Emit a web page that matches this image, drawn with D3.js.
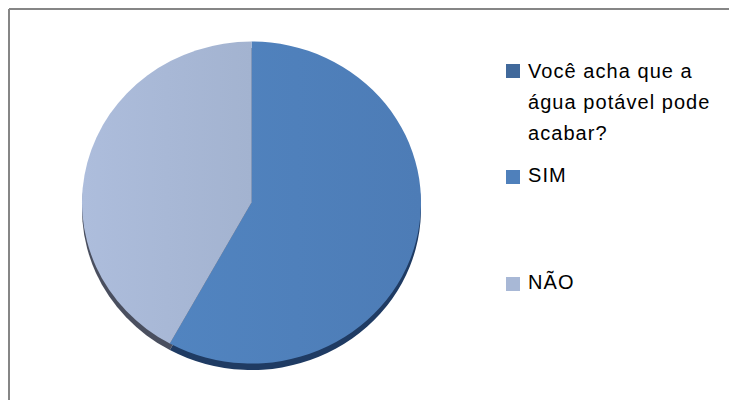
<!DOCTYPE html>
<html>
<head>
<meta charset="utf-8">
<script src="https://cdn.jsdelivr.net/npm/d3@7"></script>
<style>
  html, body { margin: 0; padding: 0; background: #fff; }
  svg { display: block; }
</style>
</head>
<body>
<svg id="chart" width="729" height="400"></svg>
<script>
// Survey answers (percent of respondents)
const categories = ["SIM", "NÃO"];
const values = [58, 42];
const legendTitle = ["Você acha que a", "água potável pode", "acabar?"];

const sliceColors = ["#4f80bb", "#a8b8d6"];
const shadeColors = ["#1f3b63", "#4a4f5f"];
const titleSwatch = "#41699b";

const svg = d3.select("#chart");
const W = 729, H = 400;

// Frame: top and left grey edges
svg.append("line").attr("x1", 9).attr("y1", 9).attr("x2", W).attr("y2", 9)
  .attr("stroke", "#868686").attr("stroke-width", 2);
svg.append("line").attr("x1", 9).attr("y1", 9).attr("x2", 9).attr("y2", H)
  .attr("stroke", "#868686").attr("stroke-width", 2);

// Soft horizontal shading across each slice
const defs = svg.append("defs");
sliceColors.forEach((c, i) => {
  const g = defs.append("linearGradient").attr("id", "grad" + i)
    .attr("x1", "0%").attr("x2", "100%").attr("y1", "0%").attr("y2", "0%");
  g.append("stop").attr("offset", "0%").attr("stop-color", d3.color(c).brighter(0.08));
  g.append("stop").attr("offset", "100%").attr("stop-color", d3.color(c).darker(0.08));
});

const cx = 251.5, cy = 202.5, rx = 169.5, ry = 161;
const pie = d3.pie().sort(null).value(d => d)(values);
const arc = d3.arc().innerRadius(0).outerRadius(rx);

// Thin rim below the tilted disc
const rimLayer = svg.append("g")
  .attr("transform", `translate(${cx},${cy + 6.5}) scale(1,${ry / rx})`);
rimLayer.selectAll("path").data(pie).join("path")
  .attr("d", arc)
  .attr("fill", (d, i) => shadeColors[i]);

const faceLayer = svg.append("g")
  .attr("transform", `translate(${cx},${cy}) scale(1,${ry / rx})`);
faceLayer.selectAll("path").data(pie).join("path")
  .attr("d", arc)
  .attr("fill", (d, i) => `url(#grad${i})`);

// Legend
const font = "'Liberation Sans', Arial, sans-serif";
const lx = 506, tx = 528, fs = 20;
const leg = svg.append("g").attr("font-family", font).attr("font-size", fs)
  .attr("letter-spacing", 1.05).attr("fill", "#000");

leg.append("rect").attr("x", lx).attr("y", 64).attr("width", 14).attr("height", 14).attr("fill", titleSwatch);
leg.append("text").selectAll("tspan").data(legendTitle).join("tspan")
  .attr("x", tx).attr("y", (d, i) => 77.5 + i * 31).text(d => d);

const itemY = [182, 289];
categories.forEach((c, i) => {
  leg.append("rect").attr("x", lx).attr("y", itemY[i] - 12).attr("width", 14).attr("height", 14)
    .attr("fill", sliceColors[i]);
  leg.append("text").attr("x", tx).attr("y", itemY[i]).text(c);
});
</script>
</body>
</html>
